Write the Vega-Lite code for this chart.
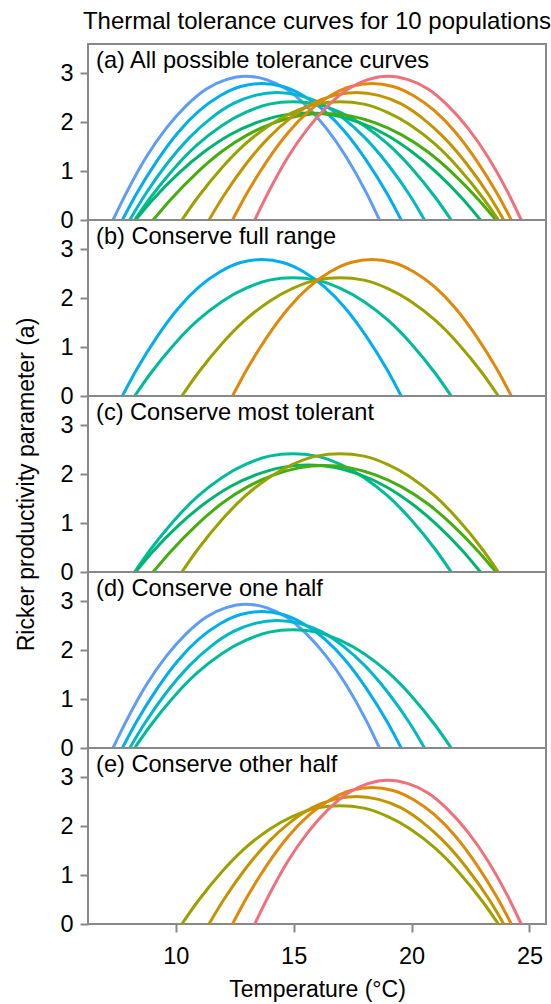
{
  "$schema": "https://vega.github.io/schema/vega-lite/v6.json",
  "padding": {"left": 14, "top": 9, "right": 1, "bottom": 2},
  "background": "white",
  "bounds": "flush",
  "spacing": 0,
  "datasets": {
    "curves": [
      {"p": "p01", "t": 7.34, "a": 0}, {"p": "p01", "t": 7.91, "a": 0.56}, {"p": "p01", "t": 8.75, "a": 1.29}, {"p": "p01", "t": 9.6, "a": 1.88}, {"p": "p01", "t": 10.45, "a": 2.34}, {"p": "p01", "t": 11.3, "a": 2.68}, {"p": "p01", "t": 12.14, "a": 2.87}, {"p": "p01", "t": 12.99, "a": 2.94}, {"p": "p01", "t": 13.84, "a": 2.87}, {"p": "p01", "t": 14.69, "a": 2.68}, {"p": "p01", "t": 15.53, "a": 2.34}, {"p": "p01", "t": 16.38, "a": 1.88}, {"p": "p01", "t": 17.23, "a": 1.29}, {"p": "p01", "t": 18.08, "a": 0.56}, {"p": "p01", "t": 18.64, "a": 0},
      {"p": "p02", "t": 7.74, "a": 0}, {"p": "p02", "t": 8.33, "a": 0.53}, {"p": "p02", "t": 9.22, "a": 1.22}, {"p": "p02", "t": 10.1, "a": 1.79}, {"p": "p02", "t": 10.99, "a": 2.23}, {"p": "p02", "t": 11.88, "a": 2.54}, {"p": "p02", "t": 12.76, "a": 2.73}, {"p": "p02", "t": 13.65, "a": 2.79}, {"p": "p02", "t": 14.54, "a": 2.73}, {"p": "p02", "t": 15.42, "a": 2.54}, {"p": "p02", "t": 16.31, "a": 2.23}, {"p": "p02", "t": 17.2, "a": 1.79}, {"p": "p02", "t": 18.08, "a": 1.22}, {"p": "p02", "t": 18.97, "a": 0.53}, {"p": "p02", "t": 19.56, "a": 0},
      {"p": "p03", "t": 8.05, "a": 0}, {"p": "p03", "t": 8.68, "a": 0.5}, {"p": "p03", "t": 9.61, "a": 1.14}, {"p": "p03", "t": 10.55, "a": 1.67}, {"p": "p03", "t": 11.49, "a": 2.08}, {"p": "p03", "t": 12.43, "a": 2.38}, {"p": "p03", "t": 13.36, "a": 2.55}, {"p": "p03", "t": 14.3, "a": 2.61}, {"p": "p03", "t": 15.24, "a": 2.55}, {"p": "p03", "t": 16.18, "a": 2.38}, {"p": "p03", "t": 17.11, "a": 2.08}, {"p": "p03", "t": 18.05, "a": 1.67}, {"p": "p03", "t": 18.99, "a": 1.14}, {"p": "p03", "t": 19.93, "a": 0.5}, {"p": "p03", "t": 20.55, "a": 0},
      {"p": "p04", "t": 8.26, "a": 0}, {"p": "p04", "t": 8.93, "a": 0.46}, {"p": "p04", "t": 9.94, "a": 1.06}, {"p": "p04", "t": 10.94, "a": 1.55}, {"p": "p04", "t": 11.95, "a": 1.93}, {"p": "p04", "t": 12.96, "a": 2.2}, {"p": "p04", "t": 13.96, "a": 2.37}, {"p": "p04", "t": 14.97, "a": 2.42}, {"p": "p04", "t": 15.98, "a": 2.37}, {"p": "p04", "t": 16.98, "a": 2.2}, {"p": "p04", "t": 17.99, "a": 1.93}, {"p": "p04", "t": 19.0, "a": 1.55}, {"p": "p04", "t": 20.0, "a": 1.06}, {"p": "p04", "t": 21.01, "a": 0.46}, {"p": "p04", "t": 21.68, "a": 0},
      {"p": "p05", "t": 8.3, "a": 0}, {"p": "p05", "t": 9.03, "a": 0.42}, {"p": "p05", "t": 10.13, "a": 0.96}, {"p": "p05", "t": 11.22, "a": 1.4}, {"p": "p05", "t": 12.32, "a": 1.75}, {"p": "p05", "t": 13.42, "a": 1.99}, {"p": "p05", "t": 14.51, "a": 2.14}, {"p": "p05", "t": 15.61, "a": 2.19}, {"p": "p05", "t": 16.71, "a": 2.14}, {"p": "p05", "t": 17.8, "a": 1.99}, {"p": "p05", "t": 18.9, "a": 1.75}, {"p": "p05", "t": 20.0, "a": 1.4}, {"p": "p05", "t": 21.09, "a": 0.96}, {"p": "p05", "t": 22.19, "a": 0.42}, {"p": "p05", "t": 22.92, "a": 0},
      {"p": "p06", "t": 9.04, "a": 0}, {"p": "p06", "t": 9.77, "a": 0.41}, {"p": "p06", "t": 10.86, "a": 0.95}, {"p": "p06", "t": 11.95, "a": 1.4}, {"p": "p06", "t": 13.04, "a": 1.74}, {"p": "p06", "t": 14.13, "a": 1.98}, {"p": "p06", "t": 15.22, "a": 2.13}, {"p": "p06", "t": 16.31, "a": 2.18}, {"p": "p06", "t": 17.4, "a": 2.13}, {"p": "p06", "t": 18.49, "a": 1.98}, {"p": "p06", "t": 19.58, "a": 1.74}, {"p": "p06", "t": 20.67, "a": 1.4}, {"p": "p06", "t": 21.76, "a": 0.95}, {"p": "p06", "t": 22.85, "a": 0.41}, {"p": "p06", "t": 23.58, "a": 0},
      {"p": "p07", "t": 10.26, "a": 0}, {"p": "p07", "t": 10.93, "a": 0.46}, {"p": "p07", "t": 11.94, "a": 1.06}, {"p": "p07", "t": 12.94, "a": 1.55}, {"p": "p07", "t": 13.95, "a": 1.93}, {"p": "p07", "t": 14.96, "a": 2.2}, {"p": "p07", "t": 15.96, "a": 2.37}, {"p": "p07", "t": 16.97, "a": 2.42}, {"p": "p07", "t": 17.98, "a": 2.37}, {"p": "p07", "t": 18.98, "a": 2.2}, {"p": "p07", "t": 19.99, "a": 1.93}, {"p": "p07", "t": 21.0, "a": 1.55}, {"p": "p07", "t": 22.0, "a": 1.06}, {"p": "p07", "t": 23.01, "a": 0.46}, {"p": "p07", "t": 23.68, "a": 0},
      {"p": "p08", "t": 11.41, "a": 0}, {"p": "p08", "t": 12.04, "a": 0.5}, {"p": "p08", "t": 12.97, "a": 1.14}, {"p": "p08", "t": 13.91, "a": 1.67}, {"p": "p08", "t": 14.85, "a": 2.08}, {"p": "p08", "t": 15.79, "a": 2.38}, {"p": "p08", "t": 16.72, "a": 2.55}, {"p": "p08", "t": 17.66, "a": 2.61}, {"p": "p08", "t": 18.6, "a": 2.55}, {"p": "p08", "t": 19.54, "a": 2.38}, {"p": "p08", "t": 20.47, "a": 2.08}, {"p": "p08", "t": 21.41, "a": 1.67}, {"p": "p08", "t": 22.35, "a": 1.14}, {"p": "p08", "t": 23.29, "a": 0.5}, {"p": "p08", "t": 23.91, "a": 0},
      {"p": "p09", "t": 12.41, "a": 0}, {"p": "p09", "t": 13.0, "a": 0.53}, {"p": "p09", "t": 13.89, "a": 1.22}, {"p": "p09", "t": 14.77, "a": 1.79}, {"p": "p09", "t": 15.66, "a": 2.23}, {"p": "p09", "t": 16.55, "a": 2.54}, {"p": "p09", "t": 17.43, "a": 2.73}, {"p": "p09", "t": 18.32, "a": 2.79}, {"p": "p09", "t": 19.21, "a": 2.73}, {"p": "p09", "t": 20.09, "a": 2.54}, {"p": "p09", "t": 20.98, "a": 2.23}, {"p": "p09", "t": 21.87, "a": 1.79}, {"p": "p09", "t": 22.75, "a": 1.22}, {"p": "p09", "t": 23.64, "a": 0.53}, {"p": "p09", "t": 24.23, "a": 0},
      {"p": "p10", "t": 13.35, "a": 0}, {"p": "p10", "t": 13.92, "a": 0.56}, {"p": "p10", "t": 14.76, "a": 1.29}, {"p": "p10", "t": 15.61, "a": 1.88}, {"p": "p10", "t": 16.46, "a": 2.34}, {"p": "p10", "t": 17.31, "a": 2.68}, {"p": "p10", "t": 18.15, "a": 2.87}, {"p": "p10", "t": 19.0, "a": 2.94}, {"p": "p10", "t": 19.85, "a": 2.87}, {"p": "p10", "t": 20.7, "a": 2.68}, {"p": "p10", "t": 21.54, "a": 2.34}, {"p": "p10", "t": 22.39, "a": 1.88}, {"p": "p10", "t": 23.24, "a": 1.29}, {"p": "p10", "t": 24.09, "a": 0.56}, {"p": "p10", "t": 24.65, "a": 0}
    ]
  },
  "config": {
    "font": "Liberation Sans",
    "view": {"stroke": "#888888", "strokeWidth": 2},
    "concat": {"spacing": 0},
    "axis": {
      "grid": false,
      "domain": false,
      "tickColor": "#888888",
      "tickWidth": 2,
      "tickSize": 8,
      "labelFont": "Liberation Sans",
      "labelFontSize": 23.5,
      "labelColor": "#000000",
      "labelPadding": 7,
      "titleFont": "Liberation Sans",
      "titleFontSize": 23,
      "titleFontWeight": "normal",
      "titleColor": "#000000"
    },
    "line": {"strokeWidth": 3, "interpolate": "monotone", "clip": true},
    "text": {"font": "Liberation Sans", "fontSize": 23.6, "color": "#000000"}
  },
  "vconcat": [
    {
      "width": 458, "height": 176,
      "title": {"text": "Thermal tolerance curves for 10 populations", "fontSize": 24, "fontWeight": "normal", "font": "Liberation Sans", "color": "#000000", "anchor": "middle", "offset": 10},
      "layer": [
        {
          "data": {"name": "curves"},
          "mark": "line",
          "encoding": {
            "x": {"field": "t", "type": "quantitative", "scale": {"domain": [6.28, 25.7], "nice": false, "zero": false}, "axis": null},
            "y": {"field": "a", "type": "quantitative", "scale": {"domain": [0, 3.6], "nice": false}, "axis": {"values": [0, 1, 2, 3], "title": null}},
            "color": {"field": "p", "type": "nominal", "legend": null, "scale": {"domain": ["p01", "p02", "p03", "p04", "p05", "p06", "p07", "p08", "p09", "p10"], "range": ["#5E9CF7", "#00AEEF", "#00B8C6", "#00BB99", "#00B46E", "#45AD10", "#9AA200", "#C49400", "#E0880A", "#F0707A"]}}
          }
        },
        {
          "data": {"values": [{"label": "(a) All possible tolerance curves"}]},
          "mark": {"type": "text", "align": "left", "baseline": "alphabetic"},
          "encoding": {"x": {"datum": 6.62}, "y": {"datum": 3.11}, "text": {"field": "label"}}
        }
      ]
    },
    {
      "width": 458, "height": 176,
      "layer": [
        {
          "data": {"name": "curves"},
          "transform": [{"filter": {"field": "p", "oneOf": ["p02", "p04", "p07", "p09"]}}],
          "mark": "line",
          "encoding": {
            "x": {"field": "t", "type": "quantitative", "scale": {"domain": [6.28, 25.7], "nice": false, "zero": false}, "axis": null},
            "y": {"field": "a", "type": "quantitative", "scale": {"domain": [0, 3.6], "nice": false}, "axis": {"values": [0, 1, 2, 3], "title": null}},
            "color": {"field": "p", "type": "nominal", "legend": null, "scale": {"domain": ["p01", "p02", "p03", "p04", "p05", "p06", "p07", "p08", "p09", "p10"], "range": ["#5E9CF7", "#00AEEF", "#00B8C6", "#00BB99", "#00B46E", "#45AD10", "#9AA200", "#C49400", "#E0880A", "#F0707A"]}}
          }
        },
        {
          "data": {"values": [{"label": "(b) Conserve full range"}]},
          "mark": {"type": "text", "align": "left", "baseline": "alphabetic"},
          "encoding": {"x": {"datum": 6.62}, "y": {"datum": 3.11}, "text": {"field": "label"}}
        }
      ]
    },
    {
      "width": 458, "height": 176,
      "layer": [
        {
          "data": {"name": "curves"},
          "transform": [{"filter": {"field": "p", "oneOf": ["p04", "p05", "p06", "p07"]}}],
          "mark": "line",
          "encoding": {
            "x": {"field": "t", "type": "quantitative", "scale": {"domain": [6.28, 25.7], "nice": false, "zero": false}, "axis": null},
            "y": {"field": "a", "type": "quantitative", "scale": {"domain": [0, 3.6], "nice": false}, "axis": {"values": [0, 1, 2, 3], "title": "Ricker productivity parameter (a)", "titlePadding": 21}},
            "color": {"field": "p", "type": "nominal", "legend": null, "scale": {"domain": ["p01", "p02", "p03", "p04", "p05", "p06", "p07", "p08", "p09", "p10"], "range": ["#5E9CF7", "#00AEEF", "#00B8C6", "#00BB99", "#00B46E", "#45AD10", "#9AA200", "#C49400", "#E0880A", "#F0707A"]}}
          }
        },
        {
          "data": {"values": [{"label": "(c) Conserve most tolerant"}]},
          "mark": {"type": "text", "align": "left", "baseline": "alphabetic"},
          "encoding": {"x": {"datum": 6.62}, "y": {"datum": 3.11}, "text": {"field": "label"}}
        }
      ]
    },
    {
      "width": 458, "height": 176,
      "layer": [
        {
          "data": {"name": "curves"},
          "transform": [{"filter": {"field": "p", "oneOf": ["p01", "p02", "p03", "p04"]}}],
          "mark": "line",
          "encoding": {
            "x": {"field": "t", "type": "quantitative", "scale": {"domain": [6.28, 25.7], "nice": false, "zero": false}, "axis": null},
            "y": {"field": "a", "type": "quantitative", "scale": {"domain": [0, 3.6], "nice": false}, "axis": {"values": [0, 1, 2, 3], "title": null}},
            "color": {"field": "p", "type": "nominal", "legend": null, "scale": {"domain": ["p01", "p02", "p03", "p04", "p05", "p06", "p07", "p08", "p09", "p10"], "range": ["#5E9CF7", "#00AEEF", "#00B8C6", "#00BB99", "#00B46E", "#45AD10", "#9AA200", "#C49400", "#E0880A", "#F0707A"]}}
          }
        },
        {
          "data": {"values": [{"label": "(d) Conserve one half"}]},
          "mark": {"type": "text", "align": "left", "baseline": "alphabetic"},
          "encoding": {"x": {"datum": 6.62}, "y": {"datum": 3.11}, "text": {"field": "label"}}
        }
      ]
    },
    {
      "width": 458, "height": 176,
      "layer": [
        {
          "data": {"name": "curves"},
          "transform": [{"filter": {"field": "p", "oneOf": ["p07", "p08", "p09", "p10"]}}],
          "mark": "line",
          "encoding": {
            "x": {"field": "t", "type": "quantitative", "scale": {"domain": [6.28, 25.7], "nice": false, "zero": false}, "axis": {"values": [10, 15, 20, 25], "title": "Temperature (°C)", "labelPadding": 12, "titlePadding": 11}},
            "y": {"field": "a", "type": "quantitative", "scale": {"domain": [0, 3.6], "nice": false}, "axis": {"values": [0, 1, 2, 3], "title": null}},
            "color": {"field": "p", "type": "nominal", "legend": null, "scale": {"domain": ["p01", "p02", "p03", "p04", "p05", "p06", "p07", "p08", "p09", "p10"], "range": ["#5E9CF7", "#00AEEF", "#00B8C6", "#00BB99", "#00B46E", "#45AD10", "#9AA200", "#C49400", "#E0880A", "#F0707A"]}}
          }
        },
        {
          "data": {"values": [{"label": "(e) Conserve other half"}]},
          "mark": {"type": "text", "align": "left", "baseline": "alphabetic"},
          "encoding": {"x": {"datum": 6.62}, "y": {"datum": 3.11}, "text": {"field": "label"}}
        }
      ]
    }
  ]
}
